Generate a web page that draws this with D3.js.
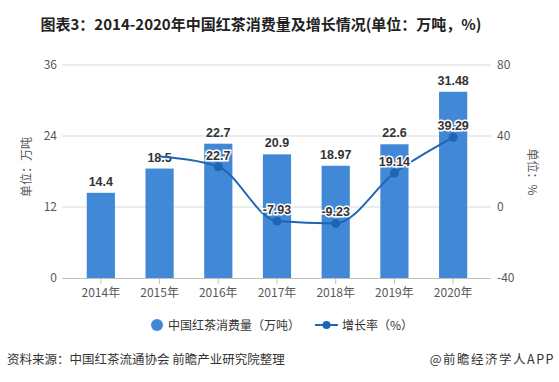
<!DOCTYPE html>
<html>
<head>
<meta charset="utf-8">
<script src="https://cdn.jsdelivr.net/npm/d3@7"></script>
<style>
  body { margin: 0; background: #fff; }
  svg { display: block; font-family: "Noto Sans CJK SC", "Noto Sans", sans-serif; }
</style>
</head>
<body>
<div id="chart"></div>
<script>
const years = ["2014年", "2015年", "2016年", "2017年", "2018年", "2019年", "2020年"]
const consumption = [14.4, 18.5, 22.7, 20.9, 18.97, 22.6, 31.48]
const growth = [null, 28.47, 22.7, -7.93, -9.23, 19.14, 39.29]
const growthLabels = [null, null, "22.7", "-7.93", "-9.23", "19.14", "39.29"]
const leftTicks = [0, 12, 24, 36]
const rightTicks = [-40, 0, 40, 80]

const CBAR = "#4189d7"
const CLINE = "#1f65b4"
const width = 559
const height = 382

const svg = d3.select("#chart")
    .append("svg")
    .attr("width", width)
    .attr("height", height)

// 标题
svg.append("text")
    .attr("x", 261)
    .attr("y", 30)
    .attr("text-anchor", "middle")
    .attr("font-size", 15)
    .attr("font-weight", "bold")
    .attr("fill", "#222")
    .text("图表3：2014-2020年中国红茶消费量及增长情况(单位：万吨，%)")

// scale
const x = d3.scaleBand().domain(years).range([71.5, 482.5]).paddingInner(0.52).paddingOuter(0.26)
const yL = d3.scaleLinear().domain([0, 36]).range([278, 65])
const yR = d3.scaleLinear().domain([-40, 80]).range([278, 65])
const gridL = 62, gridR = 491

// 网格线
svg.append("g")
    .selectAll("line")
    .data(leftTicks.slice(1))
    .join("line")
    .attr("x1", gridL).attr("x2", gridR)
    .attr("y1", d => yL(d)).attr("y2", d => yL(d))
    .attr("stroke", "#d9d9d9")

// x轴
svg.append("line")
    .attr("x1", gridL).attr("x2", gridR)
    .attr("y1", 278.5).attr("y2", 278.5)
    .attr("stroke", "#bfbfbf")

svg.append("g")
    .selectAll("line")
    .data(years)
    .join("line")
    .attr("x1", d => x(d) + x.bandwidth() / 2)
    .attr("x2", d => x(d) + x.bandwidth() / 2)
    .attr("y1", 278).attr("y2", 284)
    .attr("stroke", "#bfbfbf")

svg.append("g")
    .selectAll("text")
    .data(years)
    .join("text")
    .attr("x", d => x(d) + x.bandwidth() / 2)
    .attr("y", 297)
    .attr("text-anchor", "middle")
    .attr("font-size", 12)
    .attr("fill", "#595959")
    .text(d => d)

// 左右刻度
svg.append("g")
    .selectAll("text")
    .data(leftTicks)
    .join("text")
    .attr("x", 57)
    .attr("y", d => yL(d) + 4)
    .attr("text-anchor", "end")
    .attr("font-size", 12)
    .attr("fill", "#595959")
    .text(d => d)

svg.append("g")
    .selectAll("text")
    .data(rightTicks)
    .join("text")
    .attr("x", 497)
    .attr("y", d => yR(d) + 4)
    .attr("text-anchor", "start")
    .attr("font-size", 12)
    .attr("fill", "#595959")
    .text(d => d)

// 轴标题
svg.append("text")
    .attr("transform", "translate(31,167) rotate(-90)")
    .attr("text-anchor", "middle")
    .attr("font-size", 12)
    .attr("fill", "#595959")
    .text("单位：万吨")

svg.append("text")
    .attr("transform", "translate(528,172) rotate(90)")
    .attr("text-anchor", "middle")
    .attr("font-size", 12)
    .attr("fill", "#595959")
    .text("单位：%")

// 柱子
svg.append("g")
    .selectAll("rect")
    .data(consumption)
    .join("rect")
    .attr("x", (d, i) => x(years[i]))
    .attr("y", d => yL(d))
    .attr("width", x.bandwidth())
    .attr("height", d => yL(0) - yL(d))
    .attr("fill", CBAR)

svg.append("g")
    .selectAll("text")
    .data(consumption)
    .join("text")
    .attr("x", (d, i) => x(years[i]) + x.bandwidth() / 2)
    .attr("y", d => yL(d) - 7)
    .attr("text-anchor", "middle")
    .attr("font-family", "Liberation Sans, Arial, sans-serif")
    .attr("font-size", 12.5)
    .attr("font-weight", "bold")
    .attr("fill", "#333")
    .text(d => d)

// 折线
const pts = growth.map((g, i) => ({ g, i })).filter(d => d.g !== null)
const line = d3.line()
    .x(d => x(years[d.i]) + x.bandwidth() / 2)
    .y(d => yR(d.g))
    .curve(d3.curveMonotoneX)

svg.append("path")
    .datum(pts)
    .attr("d", line)
    .attr("fill", "none")
    .attr("stroke", CLINE)
    .attr("stroke-width", 2)

const labeled = pts.filter(d => growthLabels[d.i] !== null)
svg.append("g")
    .selectAll("circle")
    .data(labeled)
    .join("circle")
    .attr("cx", d => x(years[d.i]) + x.bandwidth() / 2)
    .attr("cy", d => yR(d.g))
    .attr("r", 4.5)
    .attr("fill", CLINE)

svg.append("g")
    .selectAll("text")
    .data(labeled)
    .join("text")
    .attr("x", d => x(years[d.i]) + x.bandwidth() / 2)
    .attr("y", d => yR(d.g) - 7)
    .attr("text-anchor", "middle")
    .attr("font-family", "Liberation Sans, Arial, sans-serif")
    .attr("font-size", 12.5)
    .attr("font-weight", "bold")
    .attr("fill", "#333")
    .attr("stroke", "#fff")
    .attr("stroke-width", 3)
    .attr("paint-order", "stroke")
    .text(d => growthLabels[d.i])

// 图例
const legend = svg.append("g")
legend.append("circle").attr("cx", 157).attr("cy", 325).attr("r", 6).attr("fill", CBAR)
legend.append("text").attr("x", 168).attr("y", 329.5)
    .attr("font-size", 12).attr("fill", "#333")
    .text("中国红茶消费量（万吨）")
legend.append("line").attr("x1", 315).attr("x2", 338).attr("y1", 325).attr("y2", 325)
    .attr("stroke", CLINE).attr("stroke-width", 2)
legend.append("circle").attr("cx", 326.5).attr("cy", 325).attr("r", 4).attr("fill", CLINE)
legend.append("text").attr("x", 342).attr("y", 329.5)
    .attr("font-size", 12).attr("fill", "#333")
    .text("增长率（%）")

// 来源
svg.append("text")
    .attr("x", 7).attr("y", 364)
    .attr("font-size", 12.5).attr("fill", "#333")
    .text("资料来源：中国红茶流通协会 前瞻产业研究院整理")

svg.append("text")
    .attr("x", 555).attr("y", 364)
    .attr("text-anchor", "end")
    .attr("font-size", 12.5).attr("fill", "#333")
    .attr("letter-spacing", 1.5)
    .text("@前瞻经济学人APP")
</script>
</body>
</html>
